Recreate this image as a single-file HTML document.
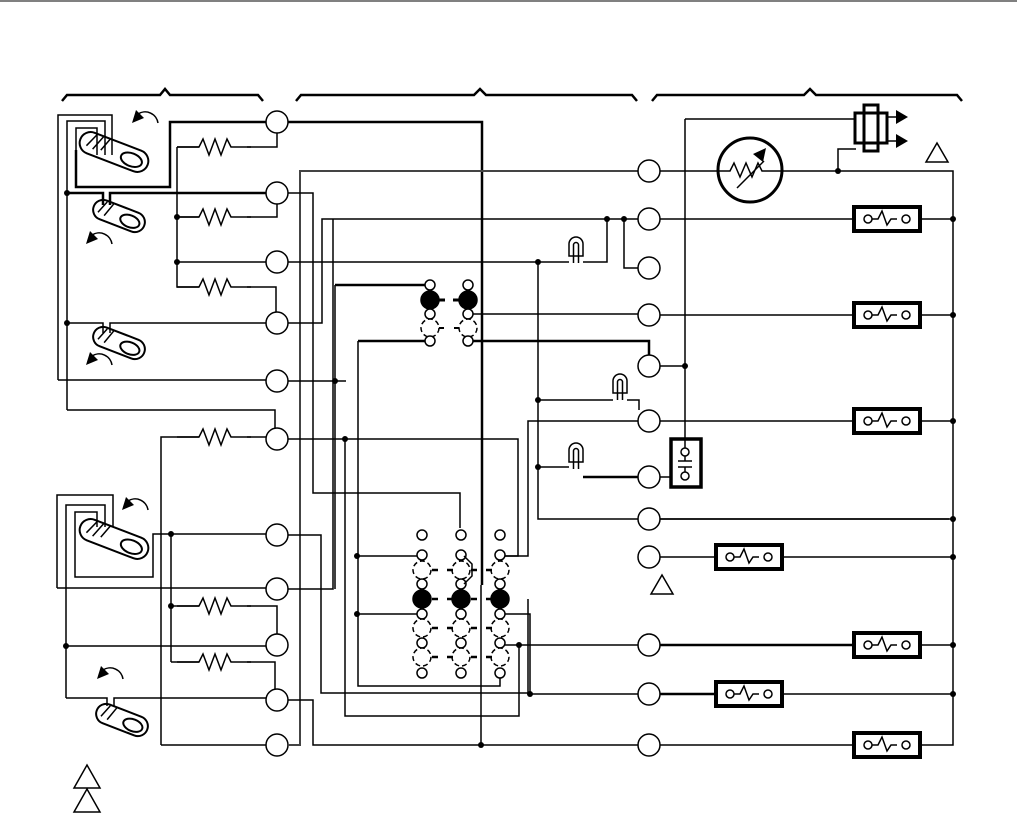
<!DOCTYPE html>
<html><head><meta charset="utf-8"><style>html,body{margin:0;padding:0;background:#fff}svg{display:block}</style></head>
<body>
<svg width="1017" height="815" viewBox="0 0 1017 815" xmlns="http://www.w3.org/2000/svg" fill="none" stroke="#000" stroke-width="1.5">
<defs>
<g id="heat"><rect x="0" y="-12" width="66" height="24" stroke-width="4"/><circle cx="14" cy="0" r="4" fill="#fff"/><circle cx="52" cy="0" r="4" fill="#fff"/><path d="M18 0h6l4-8l5 14l4-6h6"/></g>
<path id="res" d="M0 0h22l4-8l6 16l6-16l6 16l6-16l4 8h20"/>
<g id="lamp"><path d="M-7 0v-12a7 7 0 0 1 14 0v12z"/><path d="M-2.5 7v-18a2.5 2.5 0 0 1 5 0v18"/></g>
<g id="swL"><rect x="-36" y="-11" width="72" height="22" rx="11" stroke-width="2"/><ellipse cx="19" cy="1" rx="11" ry="6.5" stroke-width="2"/><path d="M-22 -10l-6 14M-15 -11l-6 16M-8 -11l-5 14"/></g>
<g id="swS"><rect x="-27" y="-10" width="54" height="20" rx="10" stroke-width="2"/><ellipse cx="12" cy="1" rx="10" ry="6" stroke-width="2"/><path d="M-16 -9l-5 13M-9 -10l-5 15"/></g>
<g id="arr"><path d="M6 -9a13 13 0 0 1 20 9" stroke-width="1.5"/><path d="M0 0l4 -13l8 8z" fill="#000" stroke="none"/></g>
</defs>
<line x1="0" y1="1" x2="1017" y2="1" stroke-width="1"/>
<!-- braces -->
<g stroke-width="2.5">
<path d="M62 101l5-6h93l5-6l5 6h88l5 6"/>
<path d="M296 101l5-6h173l6-6l6 6h146l5 6"/>
<path d="M652 101l5-6h147l6-6l6 6h141l5 6"/>
</g>
<!-- left wiring top -->
<path d="M58 380V115h54v40 M67 410V121h38v34"/>
<path d="M76 155V128h21v27"/>
<path d="M76 150v37h94V122h96" stroke-width="2.5"/>
<path d="M58 380h208"/>
<path d="M67 410h208v18"/>
<path d="M67 193h36v12M110 205v-12h156" stroke-width="2.5"/>
<path d="M177 147v140h22 M177 147h22 M247 147h30v-14 M177 217h22 M247 217h30v-13 M247 287h29v25 M177 262h89"/>
<use href="#res" x="177" y="147"/><use href="#res" x="177" y="217"/><use href="#res" x="177" y="287"/>
<path d="M67 323h36v10M110 333v-10h156"/>
<!-- switches -->
<g transform="translate(114,152) rotate(21)"><use href="#swL"/></g>
<g transform="translate(119,216) rotate(21)"><use href="#swS"/></g>
<g transform="translate(119,343) rotate(21)"><use href="#swS"/></g>
<g transform="translate(114,539) rotate(21)"><use href="#swL"/></g>
<g transform="translate(122,720) rotate(21)"><use href="#swS"/></g>
<g transform="translate(132,123)"><use href="#arr"/></g>
<g transform="translate(86,244)"><use href="#arr"/></g>
<g transform="translate(86,365)"><use href="#arr"/></g>
<g transform="translate(122,510)"><use href="#arr"/></g>
<g transform="translate(97,679)"><use href="#arr"/></g>
<!-- left wiring bottom -->
<path d="M161 745V437h38 M247 437h19 M161 745h105"/>
<use href="#res" x="177" y="437"/>
<path d="M57 588V495h56v32 M57 588h209"/>
<path d="M66 698V505h39v22"/>
<path d="M75 530V512h22v15 M75 530v47h78v-43h113 M171 534V662"/>
<path d="M171 606h28M247 606h30v28 M171 662h28 M247 662h28v27"/>
<use href="#res" x="177" y="606"/><use href="#res" x="177" y="662"/>
<path d="M66 646h200 M66 698h41v8 M114 706v-8h152"/>
<!-- left terminals -->
<g fill="#fff">
<circle cx="277" cy="122" r="11"/><circle cx="277" cy="193" r="11"/><circle cx="277" cy="262" r="11"/><circle cx="277" cy="323" r="11"/><circle cx="277" cy="381" r="11"/><circle cx="277" cy="439" r="11"/><circle cx="277" cy="535" r="11"/><circle cx="277" cy="589" r="11"/><circle cx="277" cy="645" r="11"/><circle cx="277" cy="700" r="11"/><circle cx="277" cy="745" r="11"/>
</g>
<!-- central wiring -->
<path d="M288 122h194v463" stroke-width="2.5"/>
<path d="M288 745h12V171h338" stroke="#444" stroke-width="2"/>
<path d="M288 193h25v300h147v35"/>
<path d="M288 323h34V219h316 M607 219v43h-24 M624 219v49h14"/>
<path d="M288 262h281"/>
<path d="M288 381h58"/>
<path d="M288 439h57v277h174v-73 M345 439h173v117h-13"/>
<path d="M638 421h-110v135h-23"/>
<path d="M288 535h33v158h207v-94"/>
<path d="M288 589h45V219"/>
<path d="M288 700h25v45h336"/>
<path d="M481 745V585"/>
<path d="M335 285h90" stroke-width="2.5"/><path d="M335 285V589"/>
<path d="M358 341h67M473 341h176v15" stroke-width="2.5"/><path d="M358 341v345h142v-8"/>
<path d="M473 314h165"/>
<path d="M538 262v257h411 M538 400h75 M627 400h12v10 M538 467h31"/>
<path d="M583 477h56" stroke-width="2.5"/>
<path d="M357 556h60 M357 614h60"/>
<path d="M505 614h25v80h109 M505 645h134"/>
<!-- dots -->
<g fill="#000" stroke="none">
<circle cx="67" cy="193" r="3"/><circle cx="67" cy="323" r="3"/><circle cx="177" cy="217" r="3"/><circle cx="177" cy="262" r="3"/><circle cx="335" cy="381" r="3"/><circle cx="345" cy="439" r="3"/>
<circle cx="171" cy="534" r="3"/><circle cx="171" cy="606" r="3"/><circle cx="66" cy="646" r="3"/>
<circle cx="607" cy="219" r="3"/><circle cx="624" cy="219" r="3"/><circle cx="538" cy="262" r="3"/><circle cx="538" cy="400" r="3"/><circle cx="538" cy="467" r="3"/>
<circle cx="357" cy="556" r="3"/><circle cx="357" cy="614" r="3"/><circle cx="519" cy="645" r="3"/><circle cx="530" cy="694" r="3"/><circle cx="481" cy="745" r="3"/>
<circle cx="685" cy="366" r="3"/><circle cx="838" cy="171" r="3"/>
<circle cx="953" cy="219" r="3"/><circle cx="953" cy="315" r="3"/><circle cx="953" cy="421" r="3"/><circle cx="953" cy="519" r="3"/><circle cx="953" cy="557" r="3"/><circle cx="953" cy="645" r="3"/><circle cx="953" cy="694" r="3"/>
</g>
<use href="#lamp" x="576" y="256"/><use href="#lamp" x="620" y="393"/><use href="#lamp" x="576" y="462"/>
<!-- top relay -->
<g>
<circle cx="430" cy="285" r="5" fill="#fff"/><circle cx="468" cy="285" r="5" fill="#fff"/>
<circle cx="430" cy="300" r="9" fill="#000"/><circle cx="468" cy="300" r="9" fill="#000"/><path d="M439 300h6M453 300h6" stroke-width="3"/>
<circle cx="430" cy="314" r="5" fill="#fff"/><circle cx="468" cy="314" r="5" fill="#fff"/>
<circle cx="430" cy="328" r="9" fill="#fff" stroke-dasharray="5 3"/><circle cx="468" cy="328" r="9" fill="#fff" stroke-dasharray="5 3"/><path d="M439 328h5M454 328h5" stroke-width="2"/>
<circle cx="430" cy="341" r="5" fill="#fff"/><circle cx="468" cy="341" r="5" fill="#fff"/>
</g>
<!-- bottom relay -->
<g>
<g id="col">
<circle cx="422" cy="535" r="5" fill="#fff"/><circle cx="422" cy="555" r="5" fill="#fff"/>
<circle cx="422" cy="570" r="9" fill="#fff" stroke-dasharray="5 3"/>
<circle cx="422" cy="584" r="5" fill="#fff"/>
<circle cx="422" cy="599" r="9" fill="#000"/>
<circle cx="422" cy="614" r="5" fill="#fff"/>
<circle cx="422" cy="628" r="9" fill="#fff" stroke-dasharray="5 3"/>
<circle cx="422" cy="643" r="5" fill="#fff"/>
<circle cx="422" cy="657" r="9" fill="#fff" stroke-dasharray="5 3"/>
<circle cx="422" cy="673" r="5" fill="#fff"/>
</g>
<use href="#col" x="39"/><use href="#col" x="78"/>
<path d="M432 570h6M447 570h6M471 570h6M486 570h6M432 599h6M447 599h6M471 599h6M486 599h6M432 628h6M447 628h6M471 628h6M486 628h6M432 657h6M447 657h6M471 657h6M486 657h6" stroke-width="2.5"/>
<path d="M464 556l8 8v12l-8 8"/>
</g>
<!-- middle terminals -->
<g fill="#fff">
<circle cx="649" cy="171" r="11"/><circle cx="649" cy="219" r="11"/><circle cx="649" cy="268" r="11"/><circle cx="649" cy="315" r="11"/><circle cx="649" cy="366" r="11"/><circle cx="649" cy="421" r="11"/><circle cx="649" cy="477" r="11"/><circle cx="649" cy="519" r="11"/><circle cx="649" cy="557" r="11"/><circle cx="649" cy="645" r="11"/><circle cx="649" cy="694" r="11"/><circle cx="649" cy="745" r="11"/>
</g>
<!-- right side -->
<path d="M660 171h58 M782 171h171v574h-33 M838 171v-22h18 M685 119h169 M685 119v319 M660 366h25"/>
<path d="M660 219h194M920 219h33 M660 315h194M920 315h33 M660 421h194M920 421h33 M660 519h293 M660 557h56M782 557h171 M660 745h194"/>
<path d="M660 645h194 M660 694h56" stroke-width="2.5"/><path d="M920 645h33 M782 694h171"/>
<path d="M660 477h25"/>
<circle cx="750" cy="170" r="32" stroke-width="3" fill="#fff"/>
<path d="M718 171h12l4-8l6 14l6-14l6 14l6-14l4 8h20"/>
<path d="M737 188l27-27"/><path d="M766 148l-3 14l-10-8z" fill="#000" stroke="none"/>
<rect x="864" y="105" width="14" height="46" stroke-width="3" fill="#fff"/>
<rect x="855" y="113" width="32" height="30" stroke-width="3" fill="none"/>
<path d="M887 117h10M887 141h10"/>
<path d="M896 110l12 7l-12 7z M896 134l12 7l-12 7z" fill="#000" stroke="none"/>
<use href="#heat" x="854" y="219"/><use href="#heat" x="854" y="315"/><use href="#heat" x="854" y="421"/><use href="#heat" x="716" y="557"/><use href="#heat" x="854" y="645"/><use href="#heat" x="716" y="694"/><use href="#heat" x="854" y="745"/>
<rect x="671" y="439" width="30" height="48" stroke-width="3.5" fill="#fff"/>
<circle cx="685" cy="452" r="4" fill="#fff"/><circle cx="685" cy="476" r="4" fill="#fff"/><path d="M685 439v9M678 461h14M678 467h14M685 456v5M685 467v5"/>
<!-- triangles -->
<path d="M926 162l11-19l11 19z M651 594l11-19l11 19z M74 788l13-23l13 23z M74 812l13-23l13 23z"/>
</svg>
</body></html>
